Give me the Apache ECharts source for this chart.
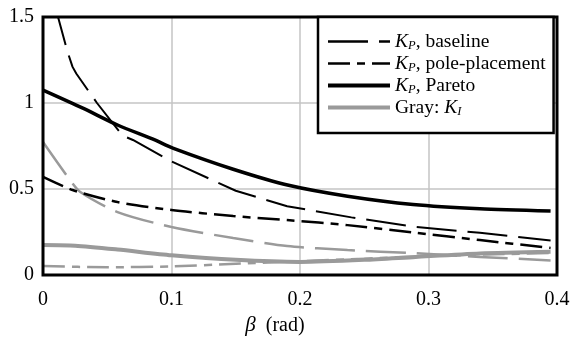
<!DOCTYPE html>
<html>
<head>
<meta charset="utf-8">
<script src="https://cdn.jsdelivr.net/npm/echarts@6/dist/echarts.min.js"></script>
<style>
  html, body { margin: 0; padding: 0; background: #fff; }
  #chart { width: 574px; height: 338px; }
</style>
</head>
<body>
<div id="chart"></div>
<script>
// Gain schedules versus sideslip angle beta (rad)
const xTickLabels = ['0', '0.1', '0.2', '0.3', '0.4'];
const yTickLabels = ['0', '0.5', '1', '1.5'];

// K_P curves
const kpBaseline = [[0, 1.85], [0.0117, 1.5], [0.019, 1.30], [0.023, 1.21], [0.026, 1.17], [0.042, 1.0],
  [0.062, 0.81], [0.07, 0.785], [0.1, 0.66], [0.15, 0.49], [0.19, 0.40], [0.24, 0.335],
  [0.29, 0.28], [0.34, 0.245], [0.395, 0.2]];
const kpPole = [[0, 0.57], [0.023, 0.494], [0.058, 0.424], [0.1, 0.378], [0.148, 0.343],
  [0.192, 0.318], [0.237, 0.29], [0.288, 0.247], [0.34, 0.203], [0.395, 0.157]];
const kpPareto = [[0, 1.075], [0.031, 0.97], [0.058, 0.872], [0.087, 0.785], [0.101, 0.738],
  [0.148, 0.615], [0.192, 0.52], [0.237, 0.458], [0.288, 0.41], [0.34, 0.385], [0.395, 0.372]];

// K_I curves (gray)
const kiBaseline = [[0, 0.773], [0.021, 0.552], [0.029, 0.483], [0.058, 0.366], [0.1, 0.279],
  [0.148, 0.215], [0.19, 0.168], [0.237, 0.145], [0.288, 0.127], [0.34, 0.105], [0.395, 0.085]];
const kiPole = [[0, 0.052], [0.05, 0.045], [0.1, 0.05], [0.15, 0.065], [0.2, 0.08],
  [0.25, 0.095], [0.3, 0.11], [0.35, 0.12], [0.395, 0.128]];
const kiPareto = [[0, 0.174], [0.025, 0.17], [0.058, 0.148], [0.1, 0.115], [0.15, 0.088],
  [0.2, 0.076], [0.25, 0.088], [0.29, 0.105], [0.34, 0.125], [0.395, 0.135]];

const FONT = '"Liberation Serif", "DejaVu Serif", serif';
const GRAY = '#9a9a9a';

const legendLabels = {
  'KP baseline': '{k|K}{s|P}{t|, baseline}',
  'KP pole': '{k|K}{s|P}{t|, pole-placement}',
  'KP Pareto': '{k|K}{s|P}{t|, Pareto}',
  'KI': '{t|Gray: }{k|K}{s|I}'
};

function line(name, data, color, width, dash, smooth) {
  return {
    name: name, type: 'line', data: data, symbol: 'none', smooth: smooth,
    lineStyle: { color: color, width: width, type: dash, cap: 'butt' },
    itemStyle: { color: color },
    emphasis: { disabled: true }, silent: true, animation: false, z: 2
  };
}

const chart = echarts.init(document.getElementById('chart'));
chart.setOption({
  backgroundColor: '#fff',
  animation: false,
  grid: { left: 43, right: 17, top: 17, bottom: 63, containLabel: false, outerBoundsMode: 'none',
    show: true, borderColor: '#000', borderWidth: 3, z: 5 },
  xAxis: {
    type: 'value', min: 0, max: 0.4, interval: 0.1,
    axisLine: { show: false }, axisTick: { show: false },
    splitLine: { lineStyle: { color: '#c4c4c4', width: 1.5 } },
    axisLabel: { color: '#000', fontFamily: FONT, fontSize: 20, margin: 15,
      formatter: v => xTickLabels[Math.round(v / 0.1)] },
    name: '{b|β}  (rad)', nameLocation: 'middle', nameGap: 39,
    nameTextStyle: { color: '#000', fontFamily: FONT, fontSize: 20, padding: [0, 50, 0, 0],
      rich: { b: { fontFamily: FONT, fontSize: 21, fontStyle: 'italic', color: '#000' } } }
  },
  yAxis: {
    type: 'value', min: 0, max: 1.5, interval: 0.5,
    axisLine: { show: false }, axisTick: { show: false },
    splitLine: { lineStyle: { color: '#c4c4c4', width: 1.5 } },
    axisLabel: { color: '#000', fontFamily: FONT, fontSize: 20, margin: 9,
      formatter: v => yTickLabels[Math.round(v / 0.5)] }
  },
  legend: {
    orient: 'vertical', left: 318, top: 17,
    data: [
      { name: 'KP baseline', lineStyle: { width: 2.5 } },
      { name: 'KP pole', lineStyle: { width: 2.5 } },
      { name: 'KP Pareto', lineStyle: { width: 4 } },
      { name: 'KI', lineStyle: { width: 4 } }
    ],
    itemWidth: 62, itemHeight: 14, itemGap: 1,
    padding: [14, 8, 15, 8],
    borderColor: '#000', borderWidth: 2.5, backgroundColor: '#fff',
    itemStyle: { opacity: 0 },
    selectedMode: false, z: 10,
    formatter: name => legendLabels[name],
    textStyle: {
      color: '#000', fontFamily: FONT, fontSize: 19.5, lineHeight: 21,
      rich: {
        k: { fontFamily: FONT, fontSize: 19.5, fontStyle: 'italic', color: '#000' },
        s: { fontFamily: FONT, fontSize: 12.5, fontStyle: 'italic', color: '#000', padding: [8, 0, 0, 0] },
        t: { fontFamily: FONT, fontSize: 19.5, color: '#000' }
      }
    }
  },
  series: [
    line('KI baseline', kiBaseline, GRAY, 2.5, [40, 11], 0.25),
    line('KI pole', kiPole, GRAY, 2.5, [22, 7, 8, 7], 0.25),
    line('KI', kiPareto, GRAY, 4, 'solid', 0.25),
    line('KP baseline', kpBaseline, '#000', 2, [40, 11], false),
    line('KP pole', kpPole, '#000', 2.5, [22, 7, 8, 7], 0.25),
    line('KP Pareto', kpPareto, '#000', 3.5, 'solid', 0.25)
  ]
});
</script>
</body>
</html>
